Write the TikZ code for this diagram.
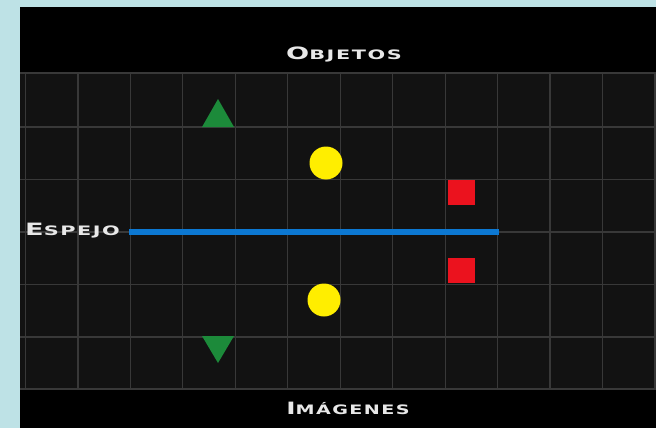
\documentclass[tikz,border=0pt]{standalone}
\usepackage{fontspec}
\newfontfamily\capfont[LetterSpace=12,FakeStretch=1.6]{DejaVu Sans Bold}
\definecolor{bgblue}{RGB}{190,226,230}
\definecolor{cellgray}{RGB}{18,18,18}
\definecolor{gridgray}{RGB}{56,56,56}
\definecolor{mirrorblue}{RGB}{12,120,210}
\definecolor{objgreen}{RGB}{28,138,58}
\definecolor{objyellow}{RGB}{255,238,0}
\definecolor{objred}{RGB}{235,18,30}
\definecolor{txtwhite}{RGB}{232,232,232}
\tikzset{
  gridline/.style={draw=gridgray, line width=1.2pt},
  mirrorline/.style={draw=mirrorblue, line width=5.5pt},
  label/.style={text=txtwhite, inner sep=0pt, font=\capfont},
  ball/.style={circle, fill=objyellow, minimum size=33pt, inner sep=0pt},
  block/.style={rectangle, fill=objred, minimum width=27pt, minimum height=25pt, inner sep=0pt},
  tri/.style={fill=objgreen}
}
\newcommand{\bigL}[1]{{\fontsize{17}{17}\selectfont #1}}
\newcommand{\smallL}[1]{{\fontsize{13}{13}\selectfont #1}}
\begin{document}
\begin{tikzpicture}[x=1pt,y=-1pt]
\useasboundingbox (0,0) rectangle (656,428);
\fill[bgblue] (0,0) rectangle (656,428);
\fill[black] (20,7) rectangle (656,428);
\fill[cellgray] (20,72) rectangle (656,390);
\foreach \i in {0,...,12} \draw[gridline] ({25.5+52.45*\i},72) -- ({25.5+52.45*\i},390);
\foreach \yy in {73,127,179.5,232,284.5,337,389} \draw[gridline] (20,\yy) -- (656,\yy);
% mirror
\coordinate (mirL) at (129,232);
\coordinate (mirR) at (499,232);
\draw[mirrorline] (mirL) -- (mirR);
% objects
\fill[tri] (218,99) -- (234,127) -- (202,127) -- cycle;
\fill[tri] (218,363) -- (234,336) -- (202,336) -- cycle;
\node[ball] (ballA) at (326,163) {};
\node[ball] (ballB) at (324,300) {};
\node[block] (blockA) at (461,192) {};
\node[block] (blockB) at (461,270) {};
% labels
\node[label] (obj) at (344,54) {\bigL{O}\smallL{BJETOS}};
\node[label] (img) at (348,408) {\scalebox{0.92}[1]{\bigL{I}\smallL{MÁGENES}}};
\node[label, anchor=west] (esp) at (25,231) {\bigL{E}\smallL{SPEJO}};
\end{tikzpicture}
\end{document}
